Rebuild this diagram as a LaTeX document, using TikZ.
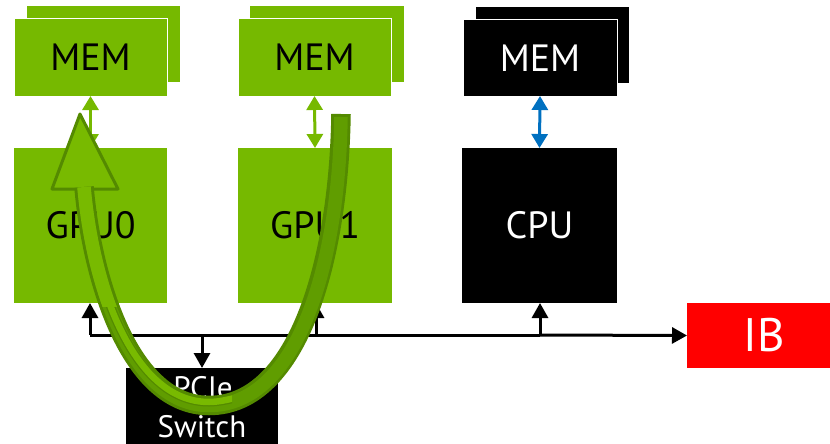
\documentclass[tikz,border=0pt]{standalone}
\usepackage{fontspec}
\setmainfont{PT Sans}
\usetikzlibrary{arrows.meta}
\definecolor{nvg}{HTML}{76B900}
\definecolor{arlight}{HTML}{78BA00}
\definecolor{ardark}{HTML}{548A00}
\definecolor{armid}{HTML}{609D00}
\definecolor{ibred}{HTML}{FF0000}
\definecolor{memblue}{HTML}{0070C0}
\tikzset{
  box/.style={inner sep=0pt, outer sep=0pt, font=\fontsize{38}{42}\selectfont},
  gbox/.style={box, fill=nvg, text=black},
  kbox/.style={box, fill=black, text=white},
  swtext/.style={text=white, inner sep=0pt, anchor=base, font=\fontsize{31}{38}\selectfont},
  garrow/.style={draw=nvg, line width=3pt, {Triangle[width=16pt,length=14pt]}-{Triangle[width=16pt,length=14pt]}},
  barrow/.style={draw=memblue, line width=3pt, {Triangle[width=16pt,length=14pt]}-{Triangle[width=16pt,length=14pt]}},
  karrow/.style={draw=black, line width=3pt, -{Triangle[width=16pt,length=15pt]}},
  kline/.style={draw=black, line width=3pt},
}
\begin{document}
\begin{tikzpicture}[x=1pt,y=-1pt]
\useasboundingbox (0,0) rectangle (830,444);
% memory stacks
\node[gbox, minimum width=153pt, minimum height=76pt] (mem0b) at (103.5,44) {};
\node[gbox, draw=white, line width=1pt, minimum width=153pt, minimum height=77pt] (mem0) at (90.5,57.5) {MEM};
\node[gbox, minimum width=154pt, minimum height=76pt] (mem1b) at (327,44) {};
\node[gbox, draw=white, line width=1pt, minimum width=153pt, minimum height=77pt] (mem1) at (314.5,57.5) {MEM};
\node[kbox, minimum width=153pt, minimum height=76pt] (memcb) at (552.5,45) {};
\node[kbox, draw=white, line width=1pt, minimum width=154pt, minimum height=76pt] (memc) at (540,58) {MEM};
% processors
\node[gbox, minimum width=153pt, minimum height=155pt] (gpu0) at (90.5,225.5) {GPU0};
\node[gbox, minimum width=154pt, minimum height=155pt] (gpu1) at (315,225.5) {GPU1};
\node[kbox, minimum width=155pt, minimum height=155pt] (cpu) at (539.5,225.5) {CPU};
\node[box, fill=ibred, text=white, minimum width=143pt, minimum height=65pt, font=\fontsize{47}{50}\selectfont] (ib) at (758.5,335.5) {\hspace{12pt}IB};
\node[kbox, minimum width=152pt, minimum height=76pt] (pcie) at (202,406) {};
\node[swtext] (pcieA) at (203,398) {PCIe};
\node[swtext] (pcieB) at (202,437) {Switch};
% memory links
\draw[garrow] (mem0.south) -- (gpu0.north);
\draw[garrow] (mem1.south) -- (gpu1.north);
\draw[barrow] (memc.south) -- (cpu.north);
% PCIe bus
\coordinate (b0) at (90,335);
\coordinate (b1) at (316,335);
\coordinate (b2) at (540,335);
\coordinate (bs) at (202,335);
\draw[kline] (b0) -- (bs) -- (b1) -- (b2);
\draw[karrow] (b2) -- (ib.west);
\draw[karrow] (b0) -- (b0 |- gpu0.south);
\draw[karrow] (b1) -- (b1 |- gpu1.south);
\draw[karrow] (b2) -- (b2 |- cpu.south);
\draw[karrow] (bs) -- (pcie.north);
% big U-turn arrow
\coordinate (tailA) at (341,114);
\coordinate (tailB) at (341,117);
\coordinate (ubot) at (209,405.5);
\coordinate (shaftEnd) at (84,187);
\coordinate (tip) at (80,114);
\coordinate (hl) at (52,189);
\coordinate (hr) at (118,189);
\draw[line width=3pt, draw=ardark, fill=arlight, line join=round] (tip) -- (hr) -- (hl) -- cycle;
\draw[line width=19.5pt, draw=ardark] (tailA) .. controls (339,255) and (300,405.5) .. (ubot) .. controls (130,405.5) and (92,280) .. (shaftEnd);
\draw[line width=13.5pt, draw=armid] (tailB) .. controls (339,258) and (300,405.5) .. (ubot) .. controls (130,405.5) and (92,280) .. (shaftEnd);
\begin{scope}
\clip (0,305) rectangle (232,444);
\begin{scope}[shift={(-4,-3.5)}]
\draw[line width=9pt, draw=ardark] (252,397.5) .. controls (237,402.5) and (223,405.5) .. (213,405.5) .. controls (134,405.5) and (96,280) .. (88,191);
\draw[line width=6.5pt, draw=arlight] (252,397.5) .. controls (237,402.5) and (223,405.5) .. (213,405.5) .. controls (134,405.5) and (96,280) .. (88,191);
\end{scope}
\end{scope}
\begin{scope}
\clip (0,0) rectangle (200,306);
\draw[line width=13.5pt, draw=arlight] (ubot) .. controls (130,405.5) and (92,280) .. (shaftEnd);
\end{scope}
\end{tikzpicture}
\end{document}
